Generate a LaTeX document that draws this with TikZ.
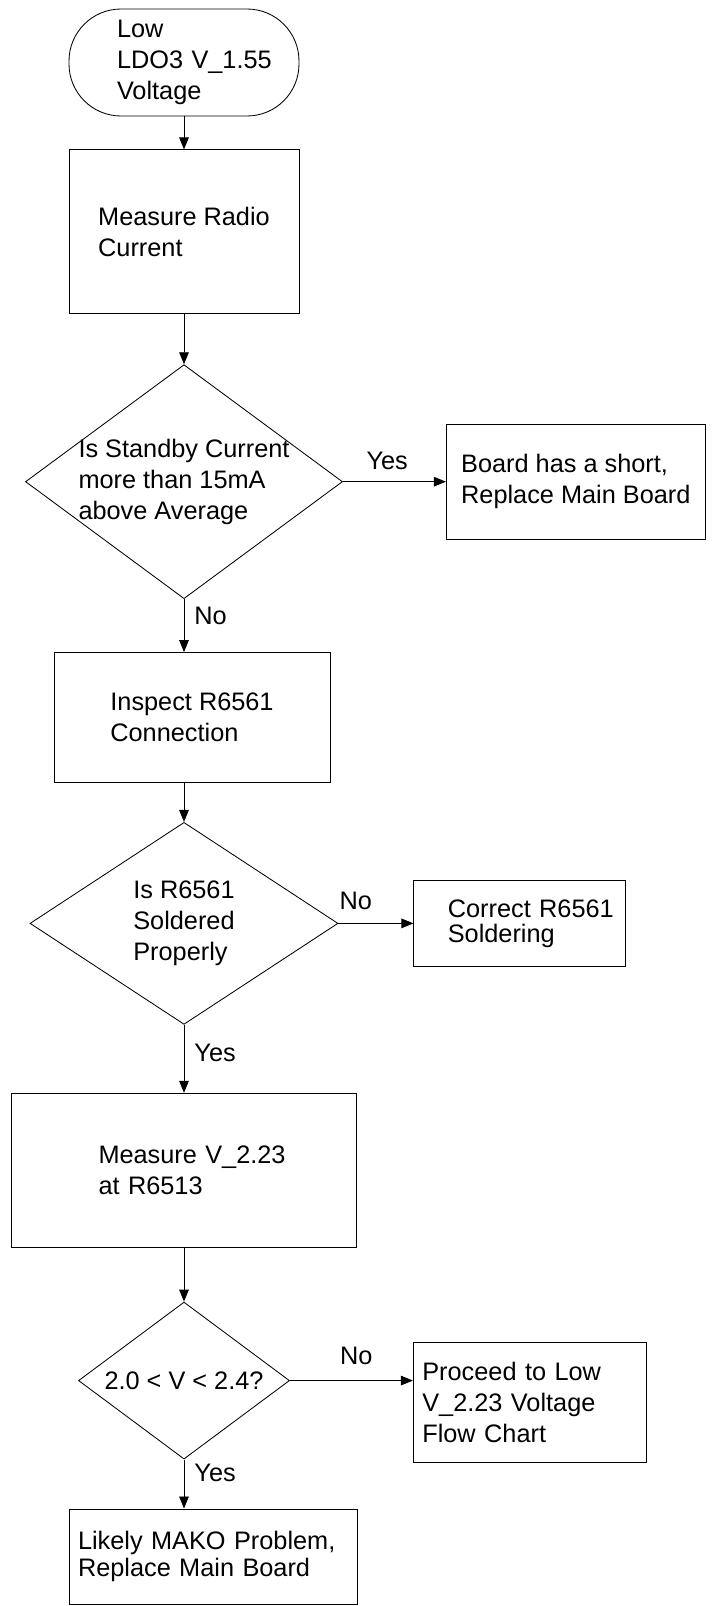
\documentclass[tikz,border=0pt]{standalone}
\usepackage{fontspec}
\setmainfont{Liberation Sans}
\usepackage{tikz}
\usetikzlibrary{positioning,arrows.meta,shapes.geometric}
\newcommand{\chartfont}{\fontsize{18pt}{22pt}\selectfont}
\tikzset{
  term/.style={rectangle, rounded corners=13mm, draw, align=left,
               inner sep=0pt, font=\chartfont},
  comp/.style={rectangle, draw, align=left, inner sep=0pt, font=\chartfont},
  decision/.style={diamond, draw, align=left, inner sep=-6mm, font=\chartfont},
  flow/.style={-{Triangle[length=3mm,width=2.4mm]}},
  lbl/.style={font=\chartfont, inner sep=0pt},
}
\begin{document}
\begin{tikzpicture}[line width=0.6pt]
  \useasboundingbox (0,0) rectangle (177.75mm,-401.5mm);

  % ---- main column ----
  \node[term, minimum width=57.5mm, minimum height=26.75mm, text width=33.5mm]
        (start) at (46mm,-15.625mm) {Low\\LDO3~V\_1.55\\Voltage};
  \node[comp, below=8.25mm of start, minimum width=57.5mm, minimum height=41mm]
        (radio) {Measure Radio\\Current};
  \node[decision, below=12.5mm of radio, minimum width=79.25mm, minimum height=58.5mm]
        (qcur) {Is Standby Current\\more than 15mA\\above Average};
  \node[comp, below=13.25mm of qcur, xshift=2mm, minimum width=69mm, minimum height=32.5mm]
        (insp) {Inspect R6561\\Connection};
  \node[decision, below=9.75mm of qcur.south |- insp.south, minimum width=77mm, minimum height=50.5mm]
        (qsold) {Is R6561\\Soldered\\Properly};
  \node[comp, below=17mm of qsold, minimum width=86.25mm, minimum height=38.5mm, text width=42.75mm]
        (meas) {Measure~V\_2.23\\at R6513};
  \node[decision, below=13.5mm of meas, minimum width=52.75mm, minimum height=39.25mm]
        (qvolt) {2.0 < V < 2.4?};
  \node[comp, below=12.25mm of qvolt, xshift=7.25mm, minimum width=72mm, minimum height=23.75mm,
        text width=67.5mm, font=\fontsize{18pt}{19.2pt}\selectfont]
        (mako) {Likely MAKO Problem,\\Replace Main Board};

  % ---- side exits ----
  \node[comp, right=25.75mm of qcur, minimum width=64.75mm, minimum height=28.75mm]
        (short) {Board has a short,\\Replace Main Board};
  \node[comp, right=18.75mm of qsold, minimum width=53mm, minimum height=21.5mm,
        text width=36mm, font=\fontsize{18pt}{17.8pt}\selectfont]
        (fix) {Correct~R6561\\Soldering};
  \node[comp, right=30.75mm of qvolt, yshift=-5.375mm, minimum width=58.25mm, minimum height=30mm,
        text width=53.75mm]
        (proc) {Proceed to Low\\V\_2.23 Voltage\\Flow Chart};

  % ===== edges =====
  \draw[flow] (start) -- (radio);
  \draw[flow] (radio) -- (qcur);
  \draw[flow] (qcur.east) -- node[lbl, pos=0.43, above=3mm]{Yes} (short.west);
  \draw[flow] (qcur.south) -- node[lbl, pos=0.32, right=2.5mm]{No} (qcur.south |- insp.north);
  \draw[flow] (insp.south -| qsold.north) -- (qsold.north);
  \draw[flow] (qsold.east) -- node[lbl, pos=0.23, above=3.25mm]{No} (fix.west);
  \draw[flow] (qsold.south) -- node[lbl, pos=0.41, right=2.5mm]{Yes} (meas.north);
  \draw[flow] (meas) -- (qvolt);
  \draw[flow] (qvolt.east) -- node[lbl, pos=0.54, above=3.75mm]{No} (qvolt.east -| proc.west);
  \draw[flow] (qvolt.south) -- node[lbl, pos=0.28, right=2.5mm]{Yes} (qvolt.south |- mako.north);

\end{tikzpicture}
\end{document}
